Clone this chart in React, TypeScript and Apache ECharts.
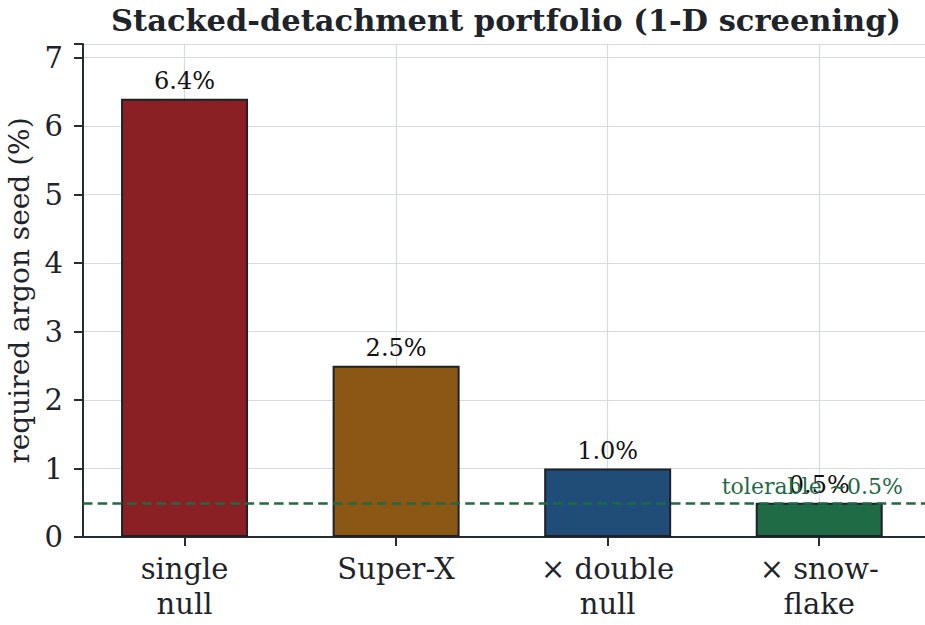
import { useEffect, useRef } from 'react'
import * as echarts from 'echarts'

// dados
const categorias = ['single\nnull', 'Super-X', '× double\nnull', '× snow-\nflake']
const posicoes = [0, 1, 2, 3]
const valores = [6.4, 2.5, 1.0, 0.5]
const cores = ['#8a2023', '#8b5714', '#1f4d78', '#1e6b45']
const tolerancia = 0.5
const rotuloTolerancia = 'tolerable ~0.5%'

const fonte = 'DejaVu Serif'
const corEixo = '#262c33'
const corGrade = '#d7dadf'
const corTexto = '#1e2429'

export default function App() {
  const containerRef = useRef<HTMLDivElement>(null)

  useEffect(() => {
    if (!containerRef.current) return
    const instancia = echarts.init(containerRef.current, undefined, { renderer: 'svg' })

    instancia.setOption({
      animation: false,
      backgroundColor: '#ffffff',
      textStyle: { fontFamily: fonte },
      title: {
        text: 'Stacked-detachment portfolio (1-D screening)',
        left: 501,
        top: -1,
        textAlign: 'center',
        textStyle: { fontFamily: fonte, fontWeight: 'bold', fontSize: 30.5, color: corTexto },
      },
      // outerBoundsMode 'none': o grid fica exatamente onde foi posto, mesmo com o nome do eixo encostado na borda
      grid: { left: 83, right: 0, top: 44, bottom: 88, outerBoundsMode: 'none' },
      // eixo x numerico (como no matplotlib): limites assimetricos -0.48 .. 3.5
      xAxis: {
        type: 'value',
        min: -0.48,
        max: 3.5,
        axisLine: { onZero: false, lineStyle: { color: corEixo, width: 2 } },
        axisTick: { show: true, customValues: posicoes, length: 9, lineStyle: { color: corEixo, width: 2 } },
        axisLabel: {
          customValues: posicoes,
          fontSize: 29,
          color: corTexto,
          lineHeight: 35,
          margin: 14,
          fontFamily: fonte,
          formatter: (v: number) => categorias[Math.round(v)] ?? '',
        },
        splitLine: { show: false },
      },
      yAxis: {
        type: 'value',
        min: 0,
        max: 7.2,
        interval: 1,
        name: 'required argon seed (%)',
        nameLocation: 'middle',
        nameGap: 50,
        nameTextStyle: { fontSize: 28, color: corTexto, fontFamily: fonte },
        axisLine: { show: true, onZero: false, lineStyle: { color: corEixo, width: 2 } },
        axisTick: { show: true, length: 9, lineStyle: { color: corEixo, width: 2 } },
        axisLabel: {
          fontSize: 29,
          color: corTexto,
          margin: 20,
          fontFamily: fonte,
          formatter: (v: number) => (Number.isInteger(v) ? String(v) : ''),
        },
        splitLine: { lineStyle: { color: corGrade, width: 1.2 } },
      },
      series: [
        {
          // serie auxiliar so para as linhas verticais de grade, atras das barras
          type: 'line',
          data: [],
          z: 0,
          markLine: {
            silent: true,
            z: 0,
            symbol: 'none',
            label: { show: false },
            lineStyle: { color: corGrade, width: 1.2, type: 'solid' },
            data: posicoes.map((p) => ({ xAxis: p })),
          },
        },
        {
          type: 'bar',
          z: 2,
          barWidth: 127,
          data: valores.map((v, i) => ({
            value: [posicoes[i], v],
            itemStyle: { color: cores[i], borderColor: '#1e2226', borderWidth: 2 },
          })),
          label: {
            show: true,
            position: 'top',
            distance: 6,
            fontSize: 24,
            color: '#111111',
            fontFamily: fonte,
            formatter: (p: any) => `${Number(p.value[1]).toFixed(1)}%`,
          },
          markLine: {
            silent: true,
            symbol: 'none',
            z: 5,
            lineStyle: { color: '#1f6a46', width: 2.6, type: [9.5, 5.2] },
            label: {
              show: true,
              position: 'insideEndTop',
              formatter: rotuloTolerancia,
              color: '#1f6a46',
              fontSize: 22,
              fontFamily: fonte,
              distance: [22, 5],
            },
            data: [{ yAxis: tolerancia }],
          },
        },
      ],
    })

    return () => instancia.dispose()
  }, [])

  return (
    <div
      ref={containerRef}
      style={{ position: 'fixed', left: 0, top: 0, width: 925, height: 625 }}
    />
  )
}
